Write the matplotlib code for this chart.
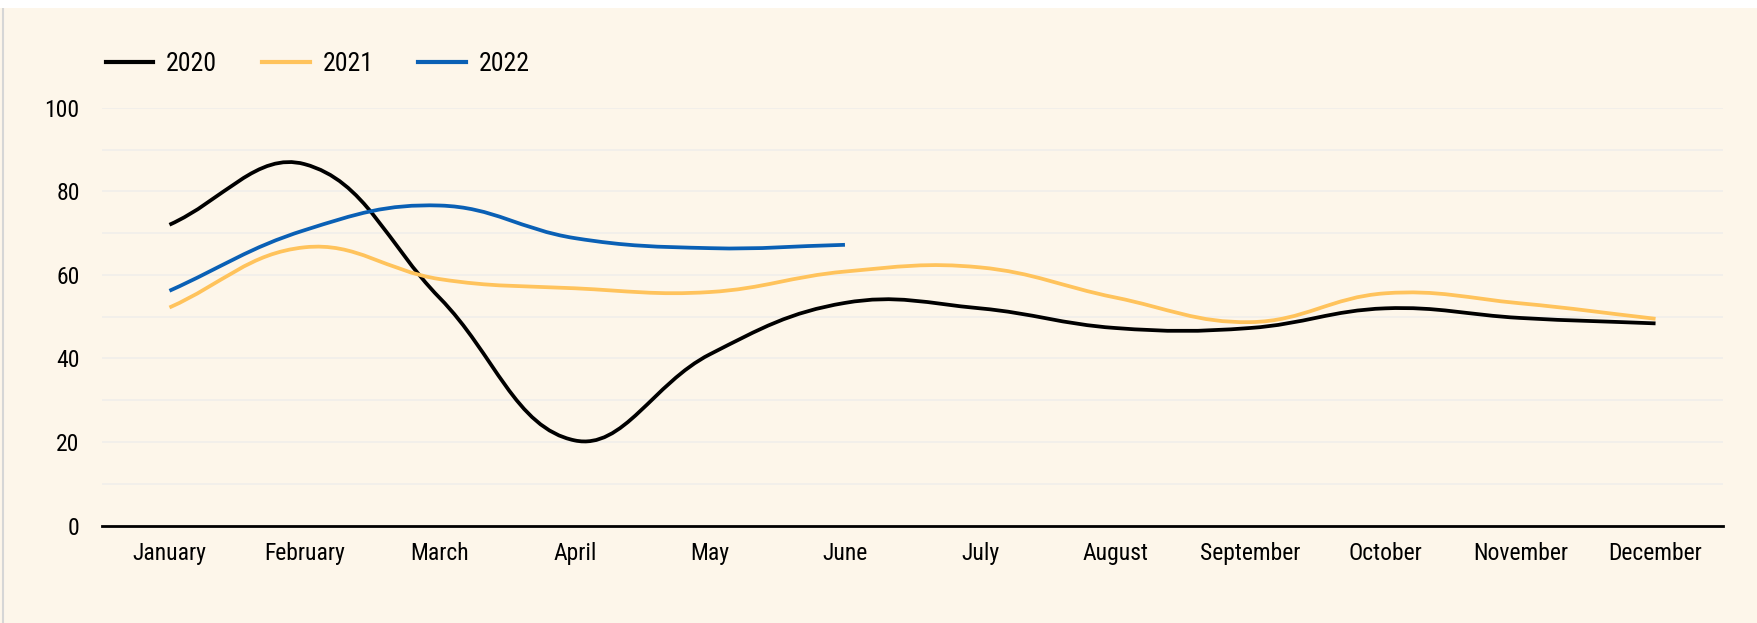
import numpy as np
import matplotlib
matplotlib.use("Agg")
import matplotlib.pyplot as plt
from matplotlib import font_manager as fm
from matplotlib.path import Path
from matplotlib.patches import PathPatch
from matplotlib.lines import Line2D

# pick a narrow face if one is there
names = {f.name for f in fm.fontManager.ttflist}
narrow = [n for n in ["Roboto Condensed", "Liberation Sans Narrow",
                      "Open Sans Condensed", "Noto Sans Condensed"] if n in names]
if narrow:
    plt.rcParams["font.family"] = [narrow[0], "DejaVu Sans"]
else:
    plt.rcParams["font.family"] = ["DejaVu Sans"]
    plt.rcParams["font.stretch"] = "condensed"

months = ["January", "February", "March", "April", "May", "June", "July",
          "August", "September", "October", "November", "December"]
y2020 = [72, 86.5, 54.5, 20.4, 41, 53.3, 52, 47.3, 47.3, 52, 49.7, 48.4]
y2021 = [52.2, 66.6, 59, 56.8, 55.9, 60.8, 61.8, 54.6, 48.7, 55.6, 53.2, 49.5]
y2022 = [56.2, 70.7, 76.6, 68.8, 66.4, 67.2]

series = [("2020", y2020, "#000000"),
          ("2021", y2021, "#ffc35c"),
          ("2022", y2022, "#0a60b5")]

bg = "#fdf6ea"
grid_c = "#f1efea"

# pixel scale of the plot area, used for the spline tension like chart.js
XS, YS = 135.0, 4.18


def spline_path(xs, ys, t=0.4):
    px = np.asarray(xs, float) * XS
    py = np.asarray(ys, float) * YS
    n = len(px)
    cin, cout = [], []
    for i in range(n):
        p0 = (px[max(i - 1, 0)], py[max(i - 1, 0)])
        p1 = (px[i], py[i])
        p2 = (px[min(i + 1, n - 1)], py[min(i + 1, n - 1)])
        d01 = np.hypot(p1[0] - p0[0], p1[1] - p0[1])
        d12 = np.hypot(p2[0] - p1[0], p2[1] - p1[1])
        tot = d01 + d12
        s01 = d01 / tot if tot else 0
        s12 = d12 / tot if tot else 0
        fa, fb = t * s01, t * s12
        cin.append((p1[0] - fa * (p2[0] - p0[0]), p1[1] - fa * (p2[1] - p0[1])))
        cout.append((p1[0] + fb * (p2[0] - p0[0]), p1[1] + fb * (p2[1] - p0[1])))
    verts = [(px[0], py[0])]
    codes = [Path.MOVETO]
    for i in range(1, n):
        verts += [cout[i - 1], cin[i], (px[i], py[i])]
        codes += [Path.CURVE4] * 3
    verts = [(vx / XS, min(max(vy / YS, 0), 100)) for vx, vy in verts]
    return Path(verts, codes)


fig = plt.figure(figsize=(17.57, 6.23), dpi=100, facecolor="white")
# cream panel with a thin grey left edge
panel = fig.add_axes([0, 0, 1, 0.987])
panel.set_facecolor(bg)
panel.set_xticks([])
panel.set_yticks([])
for s in panel.spines.values():
    s.set_visible(False)
panel.axvline(0.0015, color="#d6d6d6", lw=1.5)
panel.set_xlim(0, 1)

ax = fig.add_axes([0.058, 0.1562, 0.9227, 0.6709])
ax.set_facecolor("none")
ax.set_xlim(-0.5, 11.5)
ax.set_ylim(0, 100)

for g in range(10, 101, 10):
    ax.axhline(g, color=grid_c, lw=1.3, zorder=0)

handles = []
for label, vals, col in series:
    xs = np.arange(len(vals))
    ax.add_patch(PathPatch(spline_path(xs, vals), facecolor="none",
                           edgecolor=col, lw=2.7, zorder=3))
    handles.append(Line2D([], [], color=col, lw=3, label=label))

ax.set_xticks(range(12))
ax.set_xticklabels(months)
ax.set_yticks(range(0, 101, 20))
ax.tick_params(axis="both", length=0, labelsize=17)
ax.tick_params(axis="x", pad=12)
ax.tick_params(axis="y", pad=16)
for s in ["top", "right", "left"]:
    ax.spines[s].set_visible(False)
ax.spines["bottom"].set_color("#000000")
ax.spines["bottom"].set_linewidth(2)
ax.spines["bottom"].set_zorder(4)

fig.legend(handles=handles, loc="center left", bbox_to_anchor=(0.047, 0.898),
           ncol=3, frameon=False, fontsize=18.5, handlelength=1.85,
           handletextpad=0.5, columnspacing=1.75)

fig.savefig("out.png", dpi=100, facecolor="white")
